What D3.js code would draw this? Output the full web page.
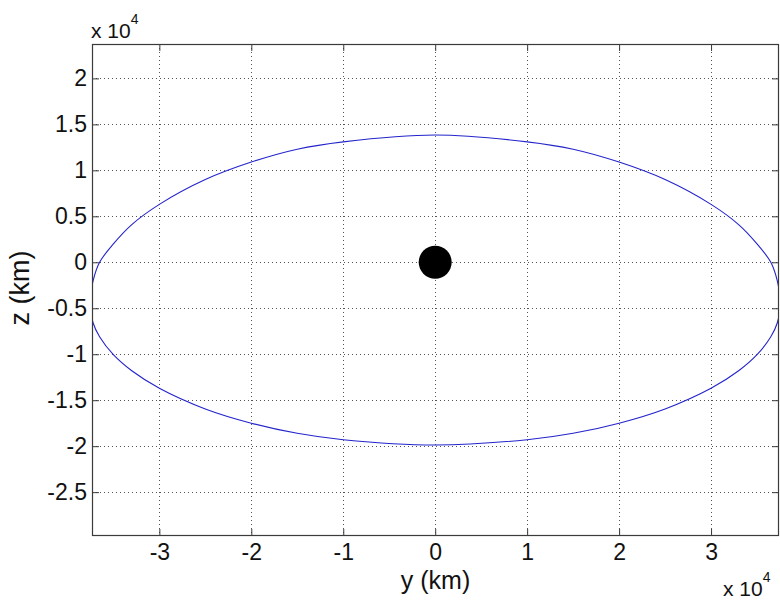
<!DOCTYPE html>
<html>
<head>
<meta charset="utf-8">
<script src="https://cdn.jsdelivr.net/npm/d3@7/dist/d3.min.js"></script>
<style>
  html, body { margin: 0; padding: 0; background: #fff; }
  svg { display: block; font-family: "Liberation Sans", Arial, sans-serif; }
</style>
</head>
<body>
<svg id="chart" width="780" height="600"></svg>
<script>
// Orbit trace projected on the y-z plane (km), traced clockwise from the top
const orbitY = [0, 10000, 15000, 20000, 25000, 30000, 33000, 35000, 36500, 37200, 37550,
                37200, 36500, 35000, 33000, 30000, 25000, 20000, 15000, 10000, 0,
                -10000, -15000, -20000, -25000, -30000, -33000, -35000, -36500, -37200, -37550,
                -37200, -36500, -35000, -33000, -30000, -25000, -20000, -15000, -10000];
const orbitZ = [13840, 13100, 12300, 10900, 9000, 6300, 4100, 2000, 0, -2000, -4500,
                -6600, -8100, -10050, -11800, -13700, -15950, -17500, -18600, -19300, -19870,
                -19300, -18600, -17500, -15950, -13700, -11800, -10050, -8100, -6600, -4500,
                -2000, 0, 2000, 4100, 6300, 9000, 10900, 12300, 13100];

// Central body at the origin
const bodyY = [0];
const bodyZ = [0];

// Axis limits and ticks (km)
const yLimits = [-37325, 37390];
const zLimits = [-29770, 23740];
const yTicks = [-30000, -20000, -10000, 0, 10000, 20000, 30000];
const zTicks = [-25000, -20000, -15000, -10000, -5000, 0, 5000, 10000, 15000, 20000];
const tickScale = 1e4;

const svg = d3.select("#chart");
const box = { left: 92, right: 779, top: 44, bottom: 536 };

const x = d3.scaleLinear().domain(yLimits).range([box.left, box.right]);
const y = d3.scaleLinear().domain(zLimits).range([box.bottom, box.top]);

const fmt = v => String(+(v / tickScale).toFixed(2));

svg.append("defs").append("clipPath").attr("id", "plotClip")
  .append("rect")
  .attr("x", box.left).attr("y", box.top)
  .attr("width", box.right - box.left).attr("height", box.bottom - box.top);

// Dotted grid
const grid = svg.append("g").attr("stroke", "#555").attr("stroke-width", 1)
  .attr("stroke-dasharray", "1,3").attr("shape-rendering", "crispEdges");
grid.selectAll("line.gx").data(yTicks).join("line")
  .attr("x1", d => Math.round(x(d)) + 0.5).attr("x2", d => Math.round(x(d)) + 0.5)
  .attr("y1", box.top).attr("y2", box.bottom);
grid.selectAll("line.gy").data(zTicks).join("line")
  .attr("y1", d => Math.round(y(d)) + 0.5).attr("y2", d => Math.round(y(d)) + 0.5)
  .attr("x1", box.left).attr("x2", box.right);

// Axes with inward ticks on all four sides
const tickLen = 7;
const axisColor = "#3a3a3a";
const bottomAxis = d3.axisBottom(x).tickValues(yTicks).tickFormat(fmt).tickSizeInner(-tickLen).tickSizeOuter(0).tickPadding(8);
const leftAxis = d3.axisLeft(y).tickValues(zTicks).tickFormat(fmt).tickSizeInner(-tickLen).tickSizeOuter(0).tickPadding(5);
const topAxis = d3.axisTop(x).tickValues(yTicks).tickFormat("").tickSizeInner(-tickLen).tickSizeOuter(0);
const rightAxis = d3.axisRight(y).tickValues(zTicks).tickFormat("").tickSizeInner(-tickLen).tickSizeOuter(0);

function styleAxis(g) {
  g.select(".domain").remove();
  g.selectAll(".tick line").attr("stroke", axisColor).attr("stroke-width", 1);
  g.selectAll(".tick text").attr("fill", "#111").attr("font-size", 23)
    .attr("font-family", "'Liberation Sans', Arial, sans-serif");
}

svg.append("g").attr("transform", `translate(0,${box.bottom})`).call(bottomAxis).call(styleAxis);
svg.append("g").attr("transform", `translate(${box.left},0)`).call(leftAxis).call(styleAxis);
svg.append("g").attr("transform", `translate(0,${box.top})`).call(topAxis).call(styleAxis);
svg.append("g").attr("transform", `translate(${box.right},0)`).call(rightAxis).call(styleAxis);

// Orbit
const pts = orbitY.map((v, i) => [v, orbitZ[i]]);
const line = d3.line().x(d => x(d[0])).y(d => y(d[1])).curve(d3.curveCatmullRomClosed.alpha(0.5));
svg.append("path").attr("clip-path", "url(#plotClip)")
  .attr("d", line(pts))
  .attr("fill", "none").attr("stroke", "#2424cc").attr("stroke-width", 1.1);

// Central body
svg.selectAll("circle.body").data(bodyY).join("circle")
  .attr("cx", d => x(d)).attr("cy", (d, i) => y(bodyZ[i]))
  .attr("r", 16.5).attr("fill", "#000");

// Plot box
svg.append("rect")
  .attr("x", box.left + 0.5).attr("y", box.top + 0.5)
  .attr("width", box.right - box.left - 1).attr("height", box.bottom - box.top - 1)
  .attr("fill", "none").attr("stroke", axisColor).attr("stroke-width", 1.2);

// Exponent labels
function expLabel(xPos, yPos) {
  const t = svg.append("text").attr("x", xPos).attr("y", yPos)
    .attr("font-size", 21).attr("fill", "#111");
  t.append("tspan").text("x 10");
  t.append("tspan").attr("dy", -14).attr("font-size", 14).text("4");
}
expLabel(91, 38);
expLabel(723, 596);

// Axis titles
svg.append("text").attr("x", 435.5).attr("y", 589).attr("text-anchor", "middle")
  .attr("font-size", 25).attr("fill", "#111").text("y (km)");
svg.append("text").attr("transform", "translate(29,288) rotate(-90)").attr("text-anchor", "middle")
  .attr("font-size", 27).attr("fill", "#111").text("z (km)");
</script>
</body>
</html>
